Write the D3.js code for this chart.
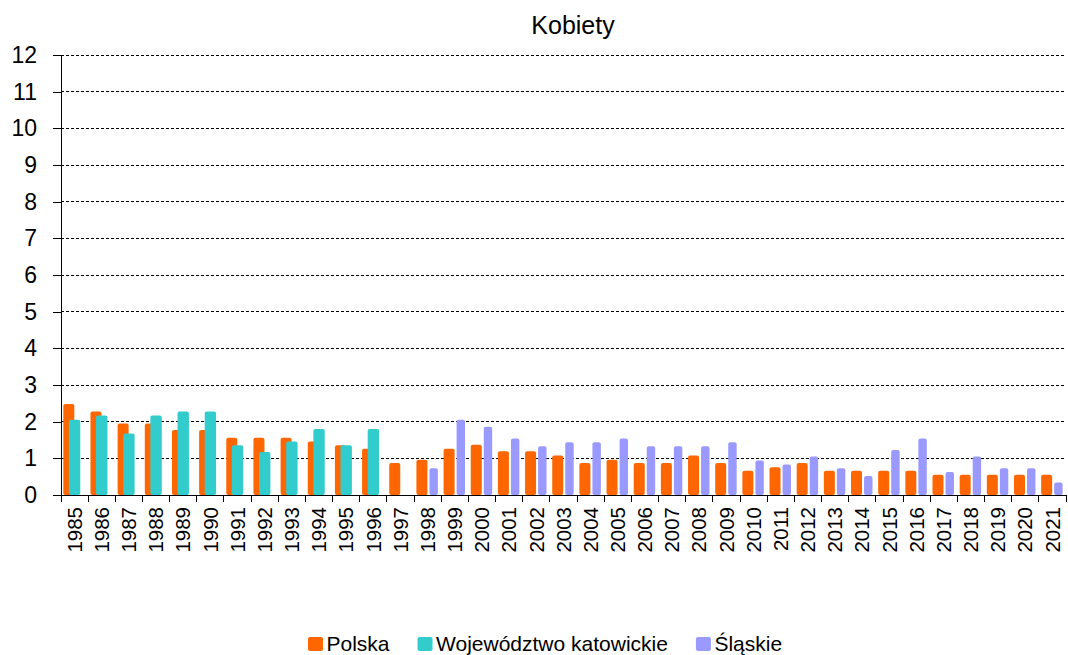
<!DOCTYPE html>
<html lang="pl">
<head>
<meta charset="UTF-8">
<title>Kobiety</title>
<style>
    body { margin: 0; background: #fff; }
    svg { display: block; font-family: "Liberation Sans", Arial, sans-serif; }
</style>
</head>
<body>
<div id="chart"></div>
<script src="https://d3js.org/d3.v7.min.js"></script>
<script>
// years on the x axis
var years = d3.range(1985, 2022).map(String);

// Polska, every year
var polska = [2.48, 2.28, 1.95, 1.95, 1.77, 1.77, 1.56, 1.56, 1.56, 1.46, 1.36, 1.26,
    0.87, 0.96, 1.26, 1.37, 1.19, 1.19, 1.08, 0.87, 0.96, 0.87, 0.87, 1.08,
    0.87, 0.66, 0.76, 0.87, 0.66, 0.66, 0.66, 0.66, 0.55, 0.55, 0.55, 0.55, 0.55];

// Województwo katowickie, 1985-1996
var katowickie = [2.05, 2.17, 1.68, 2.17, 2.28, 2.28, 1.36, 1.17, 1.46, 1.80, 1.36, 1.80];

// Śląskie, 1998-2021
var slaskie = [0.73, 2.05, 1.86, 1.54, 1.33, 1.44, 1.44, 1.54, 1.33, 1.33, 1.33, 1.44,
    0.94, 0.83, 1.05, 0.73, 0.52, 1.23, 1.54, 0.63, 1.05, 0.73, 0.73, 0.34];

var seriesNames = ["Polska", "Województwo katowickie", "Śląskie"];
var yTicks = d3.range(0, 13);

var width = 1068, height = 655;
var margin = { top: 55, right: 2, bottom: 160, left: 61 };

var svg = d3.select("#chart").append("svg")
    .attr("width", width)
    .attr("height", height);

var x = d3.scaleBand()
    .domain(years)
    .range([margin.left, width - margin.right]);

var y = d3.scaleLinear()
    .domain([0, 12])
    .range([height - margin.bottom, margin.top]);

// the three series, each with its own slot inside the year band
var series = [
    { name: seriesNames[0], color: "#FF6600", start: 0.085, size: 0.405,
      rows: years.map(function (yr, i) { return { year: yr, value: polska[i] }; }) },
    { name: seriesNames[1], color: "#33CCCC", start: 0.29, size: 0.42,
      rows: katowickie.map(function (v, i) { return { year: years[i], value: v }; }) },
    { name: seriesNames[2], color: "#9999FF", start: 0.565, size: 0.31,
      rows: slaskie.map(function (v, i) { return { year: years[i + 13], value: v }; }) }
];

// title
svg.append("text")
    .attr("x", 573)
    .attr("y", 34)
    .attr("text-anchor", "middle")
    .style("font-size", "25px")
    .attr("fill", "#000")
    .text("Kobiety");

// dashed grid lines
svg.append("g")
    .selectAll("line")
    .data(yTicks.slice(1))
    .join("line")
    .attr("x1", margin.left)
    .attr("x2", width - margin.right)
    .attr("y1", function (d) { return y(d); })
    .attr("y2", function (d) { return y(d); })
    .attr("stroke", "#000")
    .attr("stroke-width", 1)
    .attr("stroke-dasharray", "3,2")
    .attr("shape-rendering", "crispEdges");

// bars
series.forEach(function (s) {
    svg.append("g")
        .selectAll("rect")
        .data(s.rows)
        .join("rect")
        .attr("x", function (d) { return x(d.year) + x.bandwidth() * s.start; })
        .attr("width", x.bandwidth() * s.size)
        .attr("y", function (d) { return y(d.value); })
        .attr("height", function (d) { return y(0) - y(d.value); })
        .attr("rx", 2)
        .attr("fill", s.color);
});

// y axis
var yAxis = svg.append("g")
    .attr("transform", "translate(" + margin.left + ",0)")
    .call(d3.axisLeft(y).tickValues(yTicks).tickSize(8).tickPadding(16).tickSizeOuter(0));
yAxis.selectAll("text").style("font-size", "23px").attr("fill", "#000");
yAxis.selectAll("line, path").attr("stroke", "#000").attr("shape-rendering", "crispEdges");

// x axis, ticks sit on the band edges
var xAxis = svg.append("g")
    .attr("transform", "translate(0," + y(0) + ")")
    .call(d3.axisBottom(x).tickSize(0).tickSizeOuter(0).tickPadding(0));
xAxis.select("path").attr("stroke", "#000").attr("shape-rendering", "crispEdges");
xAxis.selectAll("text")
    .style("font-size", "20.5px")
    .attr("fill", "#000")
    .attr("text-anchor", "end")
    .attr("transform", "translate(0,12) rotate(-90)")
    .attr("dy", "0.35em")
    .attr("y", 0)
    .attr("x", 0);

svg.append("g")
    .selectAll("line")
    .data(years.concat(["end"]))
    .join("line")
    .attr("x1", function (d) { return d === "end" ? x.range()[1] : x(d); })
    .attr("x2", function (d) { return d === "end" ? x.range()[1] : x(d); })
    .attr("y1", y(0))
    .attr("y2", y(0) + 7)
    .attr("stroke", "#000")
    .attr("shape-rendering", "crispEdges");

// legend
var legend = svg.append("g");
var lx = 308;
series.forEach(function (s) {
    legend.append("rect")
        .attr("x", lx)
        .attr("y", 637)
        .attr("width", 15)
        .attr("height", 14)
        .attr("rx", 2)
        .attr("fill", s.color);
    var t = legend.append("text")
        .attr("x", lx + 18.5)
        .attr("y", 651)
        .style("font-size", "21px")
        .attr("fill", "#000")
        .text(s.name);
    lx += 18.5 + t.node().getComputedTextLength() + 28;
});
</script>
</body>
</html>
